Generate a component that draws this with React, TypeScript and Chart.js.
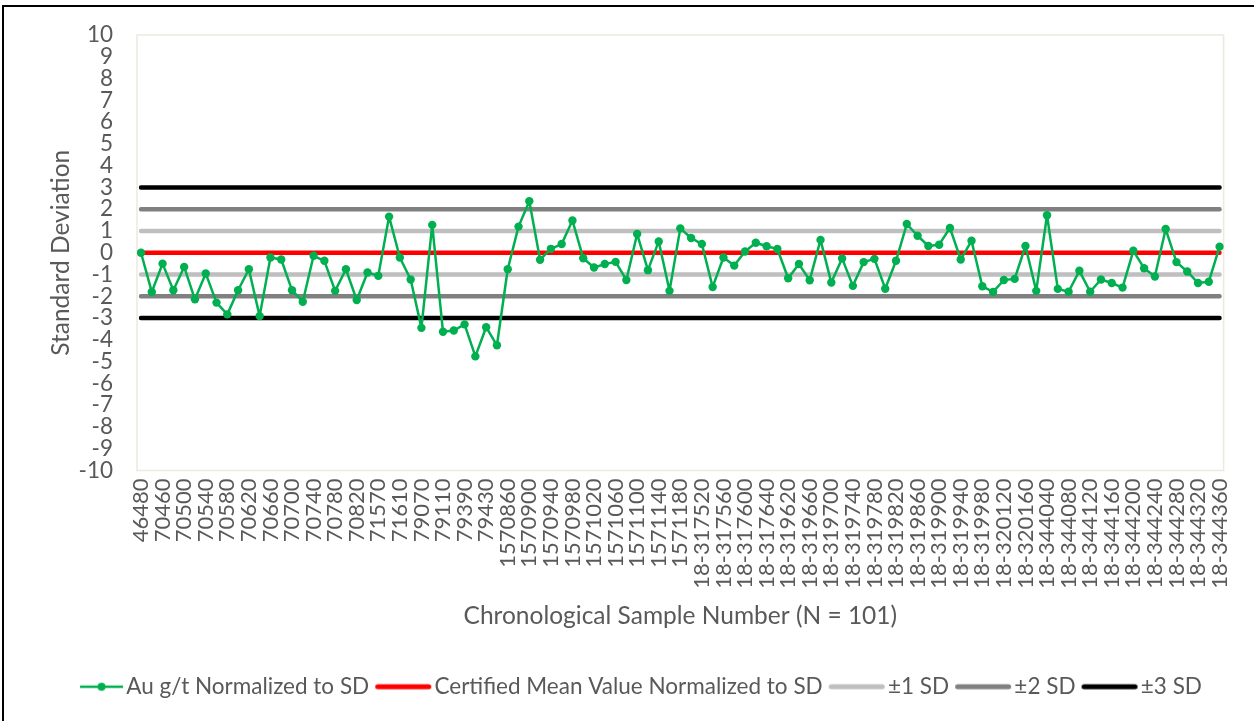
import { useEffect, useRef } from "react";
import { Chart, registerables } from "chart.js";

Chart.register(...registerables);

const sampleLabels: string[] = [
  "46480", "70440", "70460", "70480", "70500", "70520", "70540", "70560", "70580", "70600",
  "70620", "70640", "70660", "70680", "70700", "70720", "70740", "70760", "70780", "70800",
  "70820", "71550", "71570", "71590", "71610", "79050", "79070", "79090", "79110", "79370",
  "79390", "79410", "79430", "1570840", "1570860", "1570880", "1570900", "1570920", "1570940", "1570960",
  "1570980", "1571000", "1571020", "1571040", "1571060", "1571080", "1571100", "1571120", "1571140", "1571160",
  "1571180", "18-317500", "18-317520", "18-317540", "18-317560", "18-317580", "18-317600", "18-317620", "18-317640", "18-319600",
  "18-319620", "18-319640", "18-319660", "18-319680", "18-319700", "18-319720", "18-319740", "18-319760", "18-319780", "18-319800",
  "18-319820", "18-319840", "18-319860", "18-319880", "18-319900", "18-319920", "18-319940", "18-319960", "18-319980", "18-320100",
  "18-320120", "18-320140", "18-320160", "18-344020", "18-344040", "18-344060", "18-344080", "18-344100", "18-344120", "18-344140",
  "18-344160", "18-344180", "18-344200", "18-344220", "18-344240", "18-344260", "18-344280", "18-344300", "18-344320", "18-344340",
  "18-344360",
];

const auNormalized: number[] = [
  0, -1.8, -0.5, -1.72, -0.65, -2.14, -0.95, -2.29, -2.83, -1.72,
  -0.76, -2.91, -0.22, -0.31, -1.72, -2.25, -0.14, -0.37, -1.75, -0.76,
  -2.17, -0.91, -1.06, 1.66, -0.22, -1.23, -3.45, 1.28, -3.63, -3.57,
  -3.29, -4.76, -3.42, -4.25, -0.76, 1.2, 2.37, -0.32, 0.18, 0.4,
  1.48, -0.25, -0.68, -0.52, -0.42, -1.25, 0.86, -0.8, 0.52, -1.75,
  1.12, 0.68, 0.4, -1.57, -0.22, -0.59, 0.06, 0.46, 0.3, 0.17,
  -1.17, -0.52, -1.26, 0.59, -1.37, -0.26, -1.52, -0.43, -0.28, -1.65,
  -0.37, 1.32, 0.78, 0.31, 0.37, 1.14, -0.31, 0.55, -1.54, -1.8,
  -1.25, -1.2, 0.31, -1.75, 1.72, -1.66, -1.79, -0.83, -1.79, -1.23,
  -1.39, -1.6, 0.09, -0.71, -1.09, 1.09, -0.43, -0.86, -1.39, -1.33,
  0.28,
];

const certifiedMean = 0;
const sdLevels: number[] = [1, 2, 3];
const yTicks = { min: -10, max: 10, step: 1 };

const legendNames: string[] = [
  "Au g/t Normalized to SD",
  "Certified Mean Value Normalized to SD",
  "±1 SD",
  "±2 SD",
  "±3 SD",
];

const W = 1254;
const H = 721;
const FONT = "Lato";
const TEXT = "#595959";
const GREEN = "#00B050";
const RED = "#FF0000";
const SD_COLORS = ["#BFBFBF", "#808080", "#000000"];
const LEG_BOX = 40;
const LEG_IMG = 58;

export default function App() {
  const ref = useRef<HTMLCanvasElement>(null);

  useEffect(() => {
    const canvas = ref.current;
    if (!canvas) return;

    const mk = (color: string, lw: number, dot: boolean) => {
      const c = document.createElement("canvas");
      c.width = LEG_IMG;
      c.height = 12;
      const g = c.getContext("2d")!;
      g.strokeStyle = color;
      g.lineWidth = lw;
      g.lineCap = dot ? "butt" : "round";
      g.beginPath();
      if (dot) {
        const x0 = 14;
        const x1 = c.width - 1;
        g.moveTo(x0, 6);
        g.lineTo(x1, 6);
        g.stroke();
        g.fillStyle = color;
        g.beginPath();
        g.arc((x0 + x1) / 2, 6, 4, 0, Math.PI * 2);
        g.fill();
      } else {
        const inset = lw / 2 + 1;
        g.moveTo(inset, 6);
        g.lineTo(c.width - inset, 6);
        g.stroke();
      }
      return c;
    };

    const legendImgs = [
      mk(GREEN, 2.5, true),
      mk(RED, 5, false),
      mk(SD_COLORS[0], 5, false),
      mk(SD_COLORS[1], 5, false),
      mk(SD_COLORS[2], 5, false),
    ];

    const flat = (v: number) => sampleLabels.map(() => v);
    const refLine = (v: number, color: string) => ({
      label: String(v),
      data: flat(v),
      borderColor: color,
      backgroundColor: color,
      borderWidth: 4.5,
      borderCapStyle: "round" as const,
      pointRadius: 0,
      pointHoverRadius: 0,
      tension: 0,
    });

    const datasets: any[] = [
      {
        label: legendNames[0],
        data: auNormalized,
        borderColor: GREEN,
        backgroundColor: GREEN,
        borderWidth: 2.5,
        borderJoinStyle: "round",
        pointRadius: 4.2,
        pointBorderWidth: 0,
        pointBackgroundColor: GREEN,
        tension: 0,
      },
      refLine(certifiedMean, RED),
    ];
    sdLevels.forEach((s, i) => {
      datasets.push(refLine(certifiedMean + s, SD_COLORS[i]));
      datasets.push(refLine(certifiedMean - s, SD_COLORS[i]));
    });

    const plotBorder = {
      id: "plotBorder",
      beforeDatasetsDraw(chart: any) {
        const { ctx, chartArea } = chart;
        ctx.save();
        ctx.strokeStyle = "#ECE9DF";
        ctx.lineWidth = 1.5;
        ctx.strokeRect(chartArea.left - 4, chartArea.top, chartArea.right - chartArea.left + 8, chartArea.bottom - chartArea.top);
        ctx.restore();
      },
    };

    const legendShift = {
      id: "legendShift",
      afterLayout(chart: any) {
        const lg = chart.legend;
        if (lg) {
          lg.left += 17.5;
          lg.right += 17.5;
          lg.top -= 3;
          lg.bottom -= 3;
        }
      },
    };

    const chart = new Chart(canvas, {
      type: "line",
      data: { labels: sampleLabels, datasets },
      plugins: [plotBorder, legendShift],
      options: {
        responsive: false,
        animation: false,
        devicePixelRatio: 1,
        layout: { padding: { left: 20, right: 32, top: 35, bottom: 10 } },
        plugins: {
          tooltip: { enabled: false },
          legend: {
            position: "bottom",
            labels: {
              usePointStyle: true,
              pointStyleWidth: LEG_BOX,
              padding: 14,
              color: TEXT,
              font: { family: FONT, size: 22.5 },
              generateLabels: () =>
                legendNames.map((t, i) => ({
                  text: t,
                  pointStyle: legendImgs[i] as any,
                  fillStyle: "rgba(0,0,0,0)",
                  strokeStyle: "rgba(0,0,0,0)",
                  lineWidth: 0,
                  hidden: false,
                  fontColor: TEXT,
                  datasetIndex: i,
                })),
            },
          },
        },
        scales: {
          x: {
            type: "category",
            offset: false,
            grid: { display: false, drawTicks: false },
            border: { display: false },
            ticks: {
              autoSkip: false,
              minRotation: 90,
              maxRotation: 90,
              padding: 8,
              color: TEXT,
              font: { family: FONT, size: 22 },
              callback: (_v: any, i: number) => (i % 2 === 0 ? sampleLabels[i] : ""),
            },
            title: {
              display: true,
              text: "Chronological Sample Number (N = 101)",
              color: TEXT,
              font: { family: FONT, size: 24.5 },
              padding: { top: 0, bottom: 34 },
            },
            afterFit: (s: any) => {
              s.height = 194;
            },
          },
          y: {
            min: yTicks.min,
            max: yTicks.max,
            grid: { display: false, drawTicks: false },
            border: { display: false },
            ticks: {
              stepSize: yTicks.step,
              autoSkip: false,
              padding: 28,
              color: TEXT,
              font: { family: FONT, size: 22.5 },
            },
            title: {
              display: true,
              text: "Standard Deviation",
              color: TEXT,
              font: { family: FONT, size: 24.5 },
              padding: { top: 26, bottom: 0 },
            },
            afterFit: (s: any) => {
              s.width = 121;
              s.paddingTop = 10;
              s.paddingBottom = 10;
            },
          },
        },
      },
    });

    return () => chart.destroy();
  }, []);

  return (
    <div style={{ position: "fixed", left: 0, top: 0, width: W, height: H, background: "#fff" }}>
      <div
        style={{
          position: "absolute",
          left: 2,
          top: 5,
          right: 0,
          bottom: 0,
          borderTop: "2px solid #000",
          borderLeft: "2px solid #000",
        }}
      />
      <canvas ref={ref} width={W} height={H} style={{ position: "absolute", left: 0, top: 0, width: W, height: H }} />
    </div>
  );
}
